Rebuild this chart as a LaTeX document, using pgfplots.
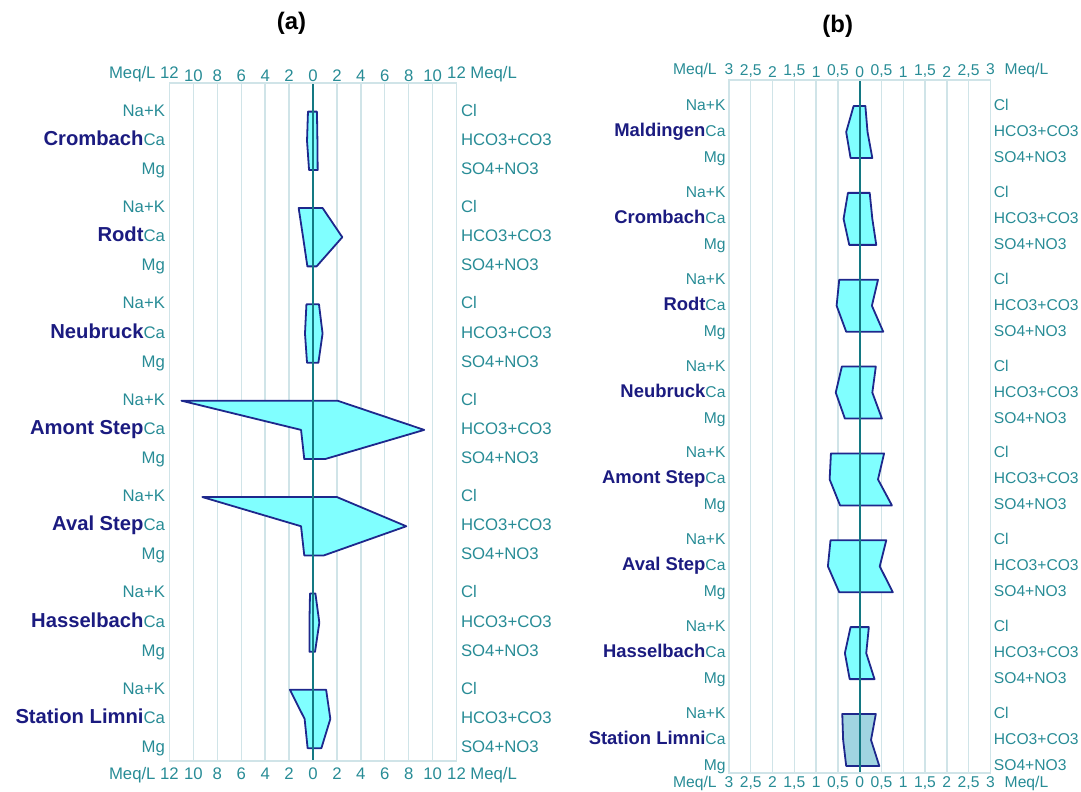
\documentclass[border=0pt]{standalone}
\usepackage{pgfplots}
\pgfplotsset{compat=1.18}
\usepackage{fontspec}
\setmainfont{Liberation Sans}

\definecolor{ionteal}{RGB}{40,140,150}
\definecolor{sitenavy}{RGB}{27,27,128}
\definecolor{edgeblue}{RGB}{30,40,140}
\definecolor{fillcyan}{RGB}{128,255,255}
\definecolor{fillgrey}{RGB}{160,212,225}
\definecolor{zeroline}{RGB}{20,120,130}
\definecolor{gridblue}{RGB}{208,228,232}

\newcommand\siteA[1]{{\fontsize{20.3}{24}\selectfont\bfseries\color{sitenavy}#1}}
\newcommand\siteB[1]{{\fontsize{18.5}{22}\selectfont\bfseries\color{sitenavy}#1}}

\pgfplotsset{
  stiffbase/.style={
    scale only axis, y dir=reverse, anchor=north west,
    major tick length=0pt,
    xtick style={draw=none}, ytick style={draw=none},
    axis line style={gridblue, line width=1.4bp},
    tick label style={ionteal},
    yticklabel style={text height=12bp, text depth=3bp},
    clip=false,
  },
  stiff/.style={draw=edgeblue, fill=fillcyan, line width=1.8bp, line join=round},
  zero/.style={zeroline, line width=2bp},
}

\begin{document}
\begin{tikzpicture}
\useasboundingbox (0,0) rectangle (1081bp,-792bp);

% ---------- panel (a): ions in meq/L ----------
\begin{axis}[stiffbase,
  at={(169.5bp,-83bp)}, width=287bp, height=678bp,
  xmin=-12, xmax=12, ymin=-0.98, ymax=22.24,
  xmajorgrids, grid style={gridblue, line width=1.4bp},
  xtick={-12,-10,-8,-6,-4,-2,0,2,4,6,8,10,12},
  xticklabels={\llap{Meq/L\ }12,10,8,6,4,2,0,2,4,6,8,10,12\rlap{\ Meq/L}},
  xticklabel pos=right,
  xticklabel style={yshift=-2.5bp},
  tick label style={font=\fontsize{16.8}{20}\selectfont},
  yticklabel style={xshift=-1bp},
  ytick={0,1,2, 3.3,4.3,5.3, 6.6,7.6,8.6, 9.9,10.9,11.9, 13.2,14.2,15.2, 16.5,17.5,18.5, 19.8,20.8,21.8},
  yticklabels={Na+K,\siteA{Crombach}Ca,Mg,
               Na+K,\siteA{Rodt}Ca,Mg,
               Na+K,\siteA{Neubruck}Ca,Mg,
               Na+K,\siteA{Amont Step}Ca,Mg,
               Na+K,\siteA{Aval Step}Ca,Mg,
               Na+K,\siteA{Hasselbach}Ca,Mg,
               Na+K,\siteA{Station Limni}Ca,Mg},
  title={(a)},
  title style={at={(axis description cs:0.425,1)}, anchor=center, yshift=54bp,
               font=\fontsize{24}{28}\selectfont\bfseries},
]
% cations to the left (Na+K, Ca, Mg), anions to the right (SO4+NO3, HCO3+CO3, Cl)
\addplot[stiff] coordinates {(-0.42,0) (-0.50,1) (-0.33,2) (0.39,2) (0.37,1) (0.33,0)} -- cycle;
\addplot[stiff] coordinates {(-1.20,3.3) (-0.83,4.3) (-0.47,5.3) (0.30,5.3) (2.45,4.3) (0.80,3.3)} -- cycle;
\addplot[stiff] coordinates {(-0.55,6.6) (-0.67,7.6) (-0.50,8.6) (0.45,8.6) (0.80,7.6) (0.50,6.6)} -- cycle;
\addplot[stiff] coordinates {(-11.0,9.9) (-1.00,10.9) (-0.73,11.9) (1.00,11.9) (9.30,10.9) (2.05,9.9)} -- cycle;
\addplot[stiff] coordinates {(-9.25,13.2) (-1.00,14.2) (-0.73,15.2) (0.90,15.2) (7.80,14.2) (2.00,13.2)} -- cycle;
\addplot[stiff] coordinates {(-0.25,16.5) (-0.30,17.5) (-0.30,18.5) (0.17,18.5) (0.53,17.5) (0.20,16.5)} -- cycle;
\addplot[stiff] coordinates {(-1.93,19.8) (-0.70,20.8) (-0.45,21.8) (0.70,21.8) (1.45,20.8) (1.10,19.8)} -- cycle;
\addplot[zero] coordinates {(0,-0.98) (0,22.24)};
\end{axis}

\begin{axis}[stiffbase,
  at={(169.5bp,-83bp)}, width=287bp, height=678bp,
  xmin=-12, xmax=12, ymin=-0.98, ymax=22.24,
  xtick={-12,-10,-8,-6,-4,-2,0,2,4,6,8,10,12},
  xticklabels={\llap{Meq/L\ }12,10,8,6,4,2,0,2,4,6,8,10,12\rlap{\ Meq/L}},
  xticklabel pos=left,
  xticklabel style={yshift=-3bp},
  tick label style={font=\fontsize{16.8}{20}\selectfont},
  yticklabel pos=right,
  yticklabel style={xshift=1bp},
  ytick={0,1,2, 3.3,4.3,5.3, 6.6,7.6,8.6, 9.9,10.9,11.9, 13.2,14.2,15.2, 16.5,17.5,18.5, 19.8,20.8,21.8},
  yticklabels={Cl,HCO3+CO3,SO4+NO3, Cl,HCO3+CO3,SO4+NO3, Cl,HCO3+CO3,SO4+NO3,
               Cl,HCO3+CO3,SO4+NO3, Cl,HCO3+CO3,SO4+NO3, Cl,HCO3+CO3,SO4+NO3,
               Cl,HCO3+CO3,SO4+NO3},
]
\end{axis}

% ---------- panel (b): ions in meq/L ----------
\begin{axis}[stiffbase,
  at={(729bp,-80bp)}, width=261.4bp, height=693bp,
  xmin=-3, xmax=3, ymin=-1.0, ymax=25.65,
  xmajorgrids, grid style={gridblue, line width=1.4bp},
  xtick={-3,-2.5,-2,-1.5,-1,-0.5,0,0.5,1,1.5,2,2.5,3},
  xticklabels={\llap{Meq/L\hspace{8bp}}3,{2,5},2,{1,5},1,{0,5},0,{0,5},1,{1,5},2,{2,5},3\rlap{\hspace{10bp}Meq/L}},
  xticklabel pos=right,
  xticklabel style={yshift=-1bp},
  tick label style={font=\fontsize{15.7}{19}\selectfont},
  ytick={0,1,2, 3.34,4.34,5.34, 6.68,7.68,8.68, 10.02,11.02,12.02, 13.36,14.36,15.36, 16.7,17.7,18.7, 20.04,21.04,22.04, 23.38,24.38,25.38},
  yticklabels={Na+K,\siteB{Maldingen}Ca,Mg,
               Na+K,\siteB{Crombach}Ca,Mg,
               Na+K,\siteB{Rodt}Ca,Mg,
               Na+K,\siteB{Neubruck}Ca,Mg,
               Na+K,\siteB{Amont Step}Ca,Mg,
               Na+K,\siteB{Aval Step}Ca,Mg,
               Na+K,\siteB{Hasselbach}Ca,Mg,
               Na+K,\siteB{Station Limni}Ca,Mg},
  title={(b)},
  title style={at={(axis description cs:0.416,1)}, anchor=center, yshift=48bp,
               font=\fontsize{24}{28}\selectfont\bfseries},
]
\addplot[stiff] coordinates {(-0.14,0) (-0.31,1) (-0.21,2) (0.29,2) (0.18,1) (0.13,0)} -- cycle;
\addplot[stiff] coordinates {(-0.27,3.34) (-0.37,4.34) (-0.24,5.34) (0.38,5.34) (0.29,4.34) (0.23,3.34)} -- cycle;
\addplot[stiff] coordinates {(-0.47,6.68) (-0.53,7.68) (-0.31,8.68) (0.54,8.68) (0.28,7.68) (0.42,6.68)} -- cycle;
\addplot[stiff] coordinates {(-0.41,10.02) (-0.55,11.02) (-0.34,12.02) (0.51,12.02) (0.29,11.02) (0.37,10.02)} -- cycle;
\addplot[stiff] coordinates {(-0.66,13.36) (-0.69,14.36) (-0.45,15.36) (0.74,15.36) (0.42,14.36) (0.56,13.36)} -- cycle;
\addplot[stiff] coordinates {(-0.67,16.7) (-0.73,17.7) (-0.47,18.7) (0.76,18.7) (0.46,17.7) (0.61,16.7)} -- cycle;
\addplot[stiff] coordinates {(-0.21,20.04) (-0.34,21.04) (-0.23,22.04) (0.34,22.04) (0.15,21.04) (0.21,20.04)} -- cycle;
\addplot[stiff, fill=fillgrey] coordinates {(-0.40,23.38) (-0.38,24.38) (-0.31,25.38) (0.45,25.38) (0.26,24.38) (0.37,23.38)} -- cycle;
\addplot[zero] coordinates {(0,-1.0) (0,25.65)};
\end{axis}

\begin{axis}[stiffbase,
  at={(729bp,-80bp)}, width=261.4bp, height=693bp,
  xmin=-3, xmax=3, ymin=-1.0, ymax=25.65,
  xtick={-3,-2.5,-2,-1.5,-1,-0.5,0,0.5,1,1.5,2,2.5,3},
  xticklabels={\llap{Meq/L\hspace{8bp}}3,{2,5},2,{1,5},1,{0,5},0,{0,5},1,{1,5},2,{2,5},3\rlap{\hspace{10bp}Meq/L}},
  xticklabel pos=left,
  tick label style={font=\fontsize{15.7}{19}\selectfont},
  yticklabel pos=right,
  ytick={0,1,2, 3.34,4.34,5.34, 6.68,7.68,8.68, 10.02,11.02,12.02, 13.36,14.36,15.36, 16.7,17.7,18.7, 20.04,21.04,22.04, 23.38,24.38,25.38},
  yticklabels={Cl,HCO3+CO3,SO4+NO3, Cl,HCO3+CO3,SO4+NO3, Cl,HCO3+CO3,SO4+NO3,
               Cl,HCO3+CO3,SO4+NO3, Cl,HCO3+CO3,SO4+NO3, Cl,HCO3+CO3,SO4+NO3,
               Cl,HCO3+CO3,SO4+NO3, Cl,HCO3+CO3,SO4+NO3},
]
\end{axis}
\end{tikzpicture}
\end{document}
